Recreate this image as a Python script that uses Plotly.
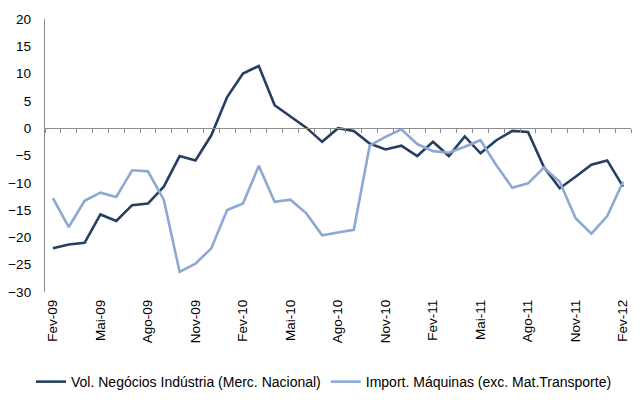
import plotly.graph_objects as go

months = []
abbr = ["Jan", "Fev", "Mar", "Abr", "Mai", "Jun", "Jul", "Ago", "Set", "Out", "Nov", "Dez"]
for y in range(9, 13):
    for m in abbr:
        months.append(f"{m}-{y:02d}")
months = months[1:38]  # Fev-09 .. Fev-12

vol_negocios = [-22.0, -21.3, -21.0, -15.8, -17.0, -14.1, -13.8, -10.7, -5.1, -5.9,
                -1.3, 5.7, 10.0, 11.4, 4.2, 2.1, 0.1, -2.5, 0.0, -0.5,
                -2.8, -3.9, -3.2, -5.1, -2.5, -5.1, -1.5, -4.6, -2.2, -0.5,
                -0.7, -7.1, -11.0, -8.9, -6.7, -5.9, -10.7]
import_maquinas = [-12.8, -18.1, -13.3, -11.8, -12.6, -7.7, -7.9, -13.1, -26.3, -24.8,
                   -22.0, -15.0, -13.8, -6.9, -13.5, -13.1, -15.6, -19.6, -19.1, -18.6,
                   -3.2, -1.6, -0.2, -2.9, -4.2, -4.5, -3.4, -2.2, -6.8, -10.9,
                   -10.1, -7.2, -9.8, -16.5, -19.3, -16.1, -9.8]
tick_labels = months[::3]
y_ticks = [20, 15, 10, 5, 0, -5, -10, -15, -20, -25, -30]

fig = go.Figure()
fig.add_trace(go.Scatter(x=months, y=vol_negocios, mode="lines",
                         name="Vol. Negócios Indústria (Merc. Nacional)",
                         line=dict(color="#243F60", width=2.6)))
fig.add_trace(go.Scatter(x=months, y=import_maquinas, mode="lines",
                         name="Import. Máquinas (exc. Mat.Transporte)",
                         line=dict(color="#8DA9D3", width=2.6)))
# invisible helper trace for the zero-line axis with boundary ticks
fig.add_trace(go.Scatter(x=months, y=[0] * len(months), xaxis="x2", mode="lines",
                         line=dict(width=0), showlegend=False, hoverinfo="skip"))

fig.update_layout(
    width=632, height=392,
    margin=dict(l=37, r=9, t=11, b=108, autoexpand=False),
    paper_bgcolor="white", plot_bgcolor="white",
    font=dict(family="Liberation Sans, Arial, sans-serif", size=13, color="#000"),
    showlegend=True,
    legend=dict(orientation="h", x=0.5, xanchor="center", xref="container",
                y=0.005, yanchor="bottom", yref="container",
                font=dict(size=14), itemwidth=30, traceorder="normal"),
    xaxis=dict(type="category", categoryorder="array", categoryarray=months,
               tickmode="array", tickvals=tick_labels, ticktext=tick_labels,
               tickangle=-90, showline=False, showgrid=False, zeroline=False,
               ticks="", ticklabelstandoff=4, range=[-0.5, 36.5],
               tickfont=dict(size=13.5), automargin=False),
    xaxis2=dict(type="category", categoryorder="array", categoryarray=months,
                overlaying="x", anchor="free", position=0.6, side="bottom",
                range=[-0.5, 36.5], showline=True, linecolor="#8C8C8C", linewidth=1.3,
                ticks="outside", ticklen=4, tickcolor="#8C8C8C", tickson="boundaries",
                tickmode="linear", dtick=1, showticklabels=False, showgrid=False,
                zeroline=False, automargin=False),
    yaxis=dict(range=[-30, 20], tickvals=y_ticks, showline=True, linecolor="#8C8C8C",
               linewidth=1.3, showgrid=False, zeroline=False, ticks="",
               ticklabelstandoff=10,
               tickfont=dict(size=13.5), automargin=False),
)

fig.write_html("out.html")
